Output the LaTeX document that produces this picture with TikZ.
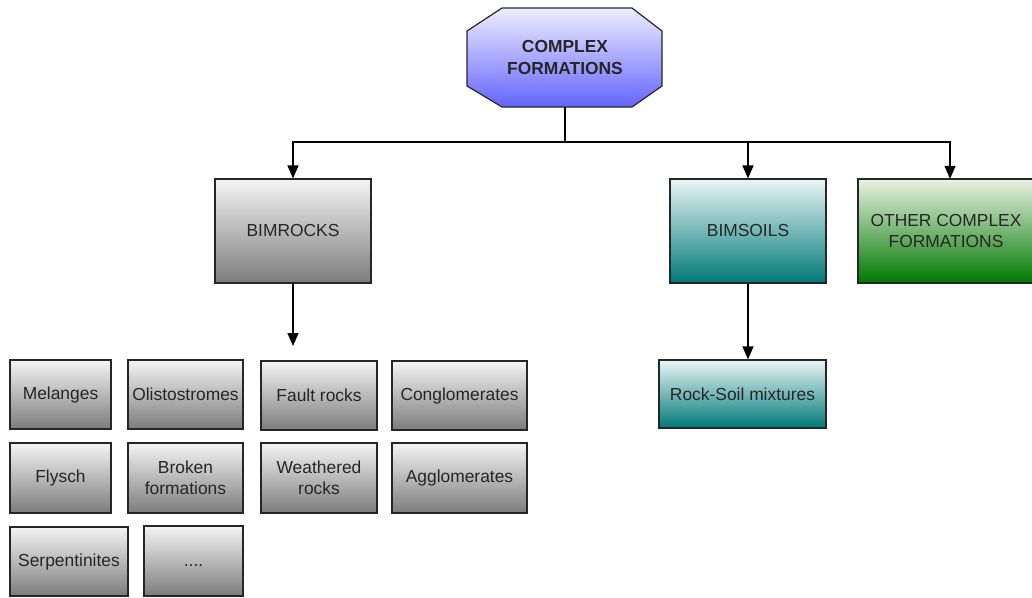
\documentclass[tikz,border=0pt]{standalone}
\usepackage{fontspec}
\setmainfont{Liberation Sans}
\usetikzlibrary{arrows.meta}
\definecolor{octtop}{HTML}{EEEEFF}
\definecolor{octbot}{HTML}{6464FF}
\definecolor{graytop}{HTML}{F4F4F4}
\definecolor{graybot}{HTML}{7C7C7C}
\definecolor{tealtop}{HTML}{EAF6F6}
\definecolor{tealbot}{HTML}{007878}
\definecolor{greentop}{HTML}{EAF2E4}
\definecolor{greenbot}{HTML}{007800}
\definecolor{edge}{HTML}{262626}
\tikzset{
  box/.style={draw=edge, line width=1.2pt, inner sep=0pt, align=center,
    font=\fontsize{17.4}{21.5}\selectfont, text=black!85},
  graybox/.style={box, top color=graytop, bottom color=graybot},
  tealbox/.style={box, top color=tealtop, bottom color=tealbot},
  greenbox/.style={box, top color=greentop, bottom color=greenbot},
  conn/.style={line width=1.3pt, black},
  arr/.style={conn, -{Triangle[width=11pt,length=13pt]}},
}
\begin{document}
\begin{tikzpicture}[x=1pt,y=-1pt]
\useasboundingbox (0,0) rectangle (1032,597);
\clip (0,0) rectangle (1032,597);
% top octagon
\shade[top color=octtop, bottom color=octbot, draw=edge, line width=1.2pt]
  (502,8) -- (632,8) -- (662,31) -- (662,86) -- (632,107) -- (502,107)
  -- (467,86) -- (467,31) -- cycle;
\node[inner sep=0pt, minimum width=195pt, minimum height=99pt, align=center,
  font=\bfseries\fontsize{17.4}{22}\selectfont, text=black!85] (top) at (565,57.5)
  {COMPLEX\\FORMATIONS};
% level 1
\node[graybox, minimum width=156pt, minimum height=104pt] (bimrocks) at (293,231) {BIMROCKS};
\node[tealbox, minimum width=156pt, minimum height=104pt] (bimsoils) at (748,231) {BIMSOILS};
\node[greenbox, minimum width=176pt, minimum height=104pt] (other) at (946,231) {OTHER COMPLEX\\FORMATIONS};
% bimsoils child
\node[tealbox, minimum width=167pt, minimum height=68pt] (rsmix) at (742.5,394) {Rock-Soil mixtures};
% bimrocks children
\node[graybox, minimum width=101pt, minimum height=69pt] (melanges) at (60.5,394.5) {Melanges};
\node[graybox, minimum width=115pt, minimum height=69pt] (olisto) at (185.5,394.5) {Olistostromes};
\node[graybox, minimum width=116pt, minimum height=69pt] (fault) at (319,395.5) {Fault rocks};
\node[graybox, minimum width=135pt, minimum height=69pt] (conglo) at (459.5,395.5) {Conglomerates};
\node[graybox, minimum width=101pt, minimum height=70pt] (flysch) at (60.5,478) {Flysch};
\node[graybox, minimum width=115pt, minimum height=70pt] (broken) at (185.5,478) {Broken\\formations};
\node[graybox, minimum width=116pt, minimum height=70pt] (weath) at (319,478) {Weathered\\rocks};
\node[graybox, minimum width=135pt, minimum height=70pt] (agglo) at (459.5,478) {Agglomerates};
\node[graybox, minimum width=118pt, minimum height=69pt] (serp) at (69,561.5) {Serpentinites};
\node[graybox, minimum width=99pt, minimum height=70pt] (dots) at (193.5,561) {\smash{\raisebox{-5pt}{....}}};
% connectors
\coordinate (hub) at (565,142);
\coordinate (othertop) at (950,178.8);
\coordinate (rkend) at (293,346);
\draw[conn] (top.south) -- (hub);
\draw[arr] (hub) -| (bimrocks.north);
\draw[arr] (hub) -| (bimsoils.north);
\draw[arr] (hub) -| (othertop);
\draw[arr] (bimrocks.south) -- (rkend);
\draw[arr] (bimsoils.south) -- (rsmix.north -| bimsoils.south);
\end{tikzpicture}
\end{document}
